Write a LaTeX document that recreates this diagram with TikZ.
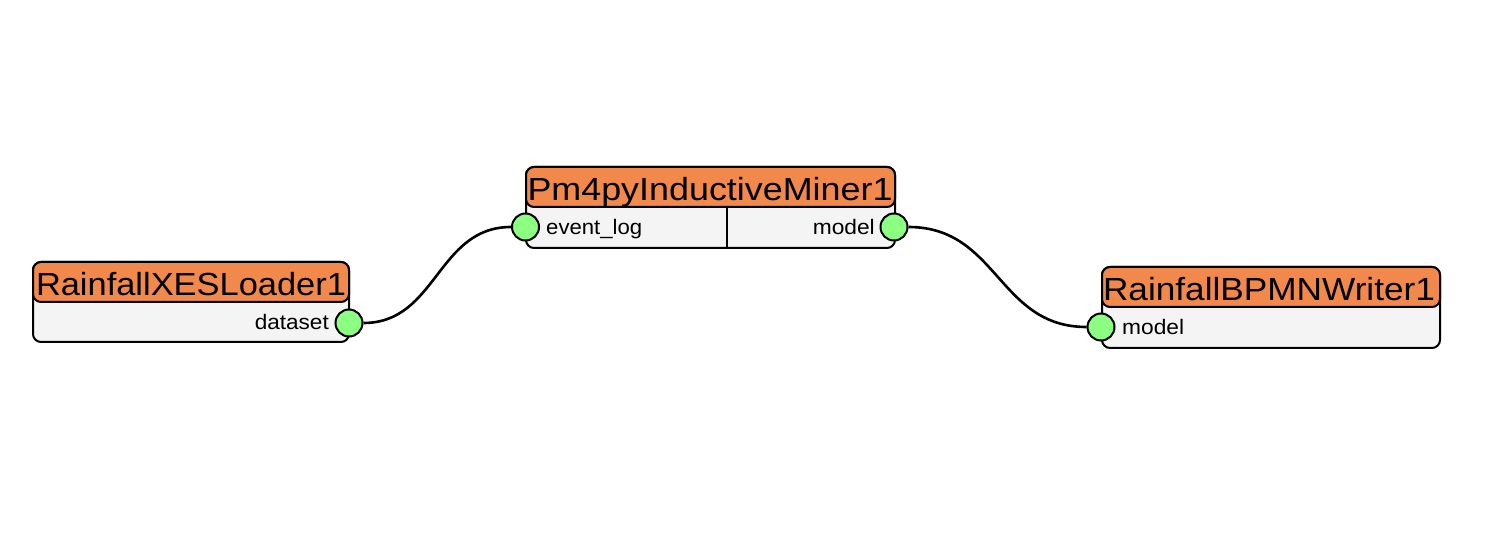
\documentclass[tikz,border=0pt]{standalone}
\usepackage{fontspec}
\setmainfont{Liberation Sans}
\usepackage{graphicx}
\definecolor{hdrorange}{HTML}{F0894B}
\definecolor{bodygray}{HTML}{F4F4F4}
\definecolor{portgreen}{HTML}{8CFF82}
\newcommand\wtxt[2]{\resizebox{#1}{\height}{#2}}
\begin{document}
\begin{tikzpicture}[x=1pt,y=-1pt,
  bodybox/.style={draw=black,line width=2pt,fill=bodygray,rounded corners=8pt,inner sep=0pt},
  hdrbox/.style={draw=black,line width=2pt,fill=hdrorange,rounded corners=8pt,inner sep=0pt,minimum height=40pt},
  hdrtext/.style={anchor=base,inner sep=0pt,font=\fontsize{32}{32}\selectfont},
  lbl/.style={inner sep=0pt,font=\fontsize{21}{21}\selectfont},
  port/.style={circle,draw=black,line width=2pt,fill=portgreen,minimum size=27pt,inner sep=0pt},
  wire/.style={line width=2.6pt,black}]
\useasboundingbox (0,0) rectangle (1496,534);
\fill[white] (0,0) rectangle (1496,534);
% Node 1
\node[bodybox,minimum width=316pt,minimum height=80pt] (b1) at (191,302) {};
\node[hdrbox,minimum width=316pt] (h1) at (191,282) {};
\node[hdrtext] (t1) at (191,295.5) {\wtxt{310pt}{RainfallXESLoader1}};
\node[lbl,anchor=base east] (l1) at (329,330) {\wtxt{74pt}{dataset}};
\node[port] (p1) at (349,323) {};
% Node 2
\node[bodybox,minimum width=369pt,minimum height=81pt] (b2) at (710.5,207.5) {};
\node[hdrbox,minimum width=369pt] (h2) at (710.5,187) {};
\draw[line width=2pt] (727,207) coordinate (d2a) -- (727,248) coordinate (d2b);
\node[hdrtext] (t2) at (710,200.5) {\wtxt{365pt}{Pm4pyInductiveMiner1}};
\node[lbl,anchor=base west] (l2a) at (546,235) {\wtxt{96pt}{event\_log}};
\node[lbl,anchor=base east] (l2b) at (875,235) {\wtxt{62pt}{model}};
\node[port] (p2a) at (525.5,227) {};
\node[port] (p2b) at (894,227) {};
% Node 3
\node[bodybox,minimum width=338pt,minimum height=81pt] (b3) at (1271,307.5) {};
\node[hdrbox,minimum width=338pt] (h3) at (1271,287) {};
\node[hdrtext] (t3) at (1269,300.5) {\wtxt{332pt}{RainfallBPMNWriter1}};
\node[lbl,anchor=base west] (l3) at (1122,335) {\wtxt{62pt}{model}};
\node[port] (p3) at (1101,327) {};
% Wires
\draw[wire] (p1.east) .. controls (437,323) and (437,227) .. (p2a.west);
\draw[wire] (p2b.east) .. controls (998,227) and (998,327) .. (p3.west);
\end{tikzpicture}
\end{document}
